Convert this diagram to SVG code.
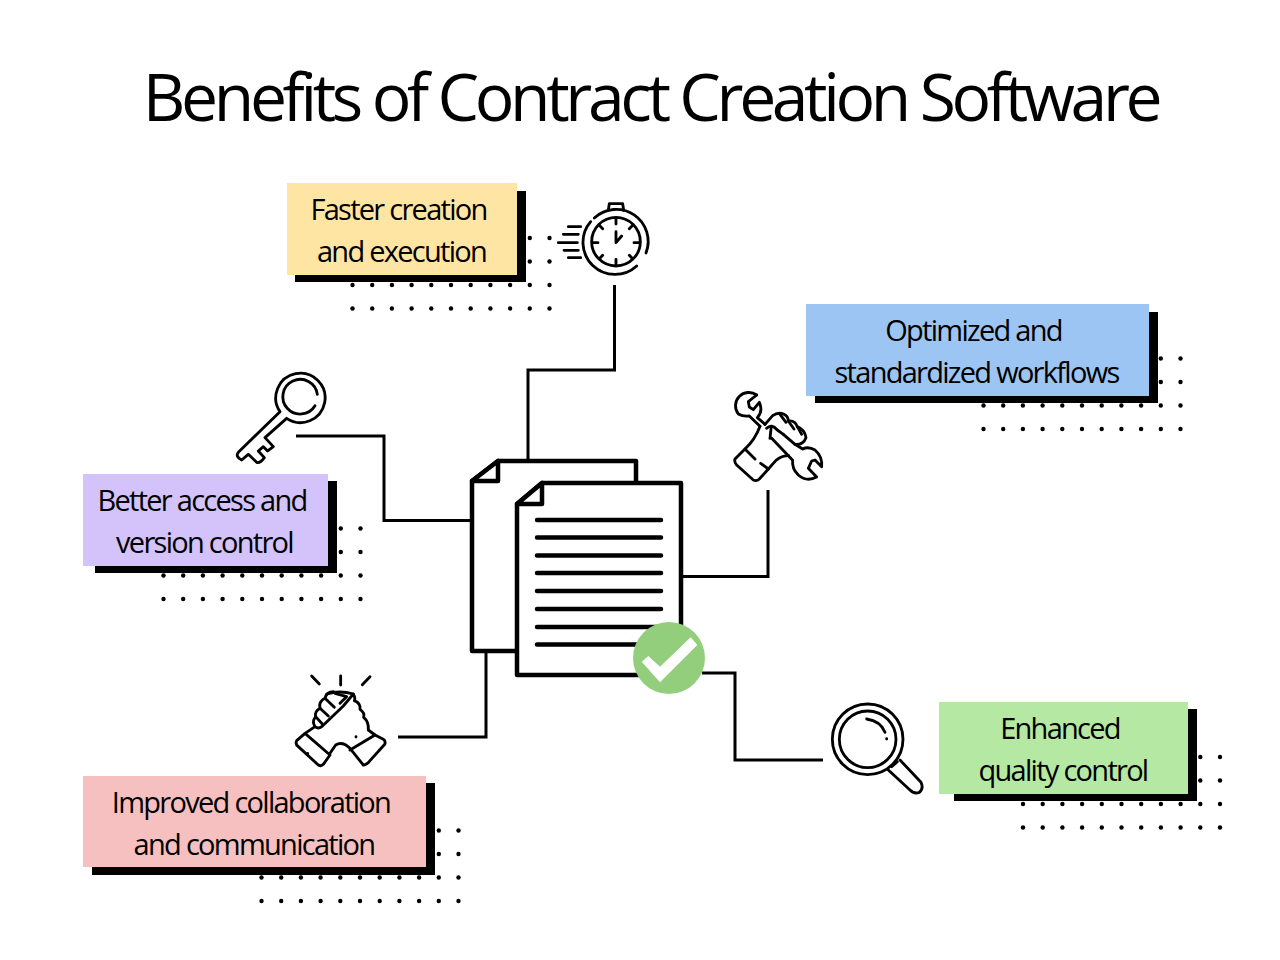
<svg xmlns="http://www.w3.org/2000/svg" width="1280" height="960" viewBox="0 0 1280 960">
<style>
text{font-family:"Open Sans","Noto Sans",sans-serif;fill:#000;text-anchor:middle}
.t{font-size:29px;letter-spacing:-1.72px}
.title{font-size:66px;letter-spacing:-4.38px}
.l{fill:none;stroke:#000;stroke-width:8.500;stroke-linecap:round;stroke-linejoin:round}
.c{fill:none;stroke:#000;stroke-width:3}
.d{fill:#fff;stroke:#000;stroke-width:4.500;stroke-linejoin:round}
.r{fill:none;stroke:#000;stroke-width:4.500;stroke-linecap:round}
</style>
<defs>
<g id="row"><circle cx="0" cy="0" r="2.200"/><circle cx="19.7" cy="0" r="2.200"/><circle cx="39.4" cy="0" r="2.200"/><circle cx="59.1" cy="0" r="2.200"/><circle cx="78.8" cy="0" r="2.200"/><circle cx="98.5" cy="0" r="2.200"/><circle cx="118.2" cy="0" r="2.200"/><circle cx="137.9" cy="0" r="2.200"/><circle cx="157.6" cy="0" r="2.200"/><circle cx="177.3" cy="0" r="2.200"/><circle cx="197" cy="0" r="2.200"/></g>
<g id="dots"><use href="#row" y="0"/><use href="#row" y="23.500"/><use href="#row" y="47"/><use href="#row" y="70.500"/></g>
</defs>
<rect width="1280" height="960" fill="#fff"/>
<text class="title" x="650.500" y="121">Benefits of Contract Creation Software</text>
<g id="connectors" class="c">
<path d="M614.500 285V370H528V460"/>
<path d="M296 436H384V520.500H472"/>
<path d="M768 490V576.500H682"/>
<path d="M398 737H486V650"/>
<path d="M702 673H735V760H823"/>
</g>
<g id="faster"><use href="#dots" x="352.500" y="238"/><rect x="295" y="191" width="231" height="91"/><rect x="287" y="183" width="230" height="92" fill="#ffe5a3"/><text class="t" x="398.500" y="220">Faster creation</text><text class="t" x="401.500" y="262">and execution</text></g>
<g id="optimized"><use href="#dots" x="983.500" y="358.500"/><rect x="815" y="312" width="343" height="91"/><rect x="806" y="304" width="343" height="92" fill="#9dc5f3"/><text class="t" x="973.500" y="341">Optimized and</text><text class="t" x="976.500" y="383">standardized workflows</text></g>
<g id="better"><use href="#dots" x="163.500" y="528.500"/><rect x="95" y="481" width="242" height="92"/><rect x="83" y="474" width="245" height="92" fill="#d3c3fa"/><text class="t" x="202" y="511">Better access and</text><text class="t" x="204.500" y="553">version control</text></g>
<g id="improved"><use href="#dots" x="261.500" y="830.500"/><rect x="92" y="783" width="343" height="92"/><rect x="83" y="776" width="343" height="91" fill="#f6c0c0"/><text class="t" x="251" y="813">Improved collaboration</text><text class="t" x="254" y="855">and communication</text></g>
<g id="enhanced"><use href="#dots" x="1023" y="757"/><rect x="954" y="709" width="243" height="92"/><rect x="939" y="702" width="249" height="92" fill="#b5e8a2"/><text class="t" x="1060" y="739">Enhanced</text><text class="t" x="1063" y="781">quality control</text></g>
<g id="stopwatch" class="l" transform="translate(540 191) scale(.3333)">
<path d="M205 58L208 38H248L251 58"/>
<path d="M163 81A96 96 0 0 1 318 186"/>
<path d="M290 225A96 96 0 0 1 152 92"/>
<circle cx="228" cy="152" r="73"/>
<path d="M228 84V99M228 205V222M159 155H174M282 155H298M178 103L188 113M278 103L268 113M178 203L188 193M278 203L268 193"/>
<path d="M228 122V155L245 135"/>
<path d="M85 107H122M70 130H115M55 155H112M72 178H115M85 200H122"/>
</g>
<g id="key" class="l" transform="translate(225 365) scale(.3333)">
<path d="M165 140L40 262Q30 275 50 285L70 268L95 292Q105 296 118 278L100 258L115 245L128 258L145 245L120 218L185 160A74 74 0 1 0 165 140Z"/>
<path d="M277 88A52 52 0 1 0 270 122"/>
</g>
<g id="tools" class="l" transform="translate(720 385) scale(.3333)">
<path d="M110 30A40 40 0 0 0 55 87Q68 95 88 93L120 124"/>
<path d="M110 30L85 50L88 66L100 74L118 52Q130 78 112 98L135 118"/>
<path d="M135 118L158 92Q175 80 192 88Q205 95 205 108Q225 105 232 125Q255 135 258 158Q250 180 225 178L190 148"/>
<path d="M75 192Q105 165 120 124M140 130Q155 115 172 135L190 148M150 160L153 132"/>
<path d="M75 192L45 222Q42 232 50 240L100 285Q110 290 118 282L145 252L122 235M105 222L75 192"/>
<path d="M145 252L168 226Q185 212 206 212"/>
<path d="M155 160L218 226Q215 250 235 270Q260 292 290 276L265 250L275 228L285 225L305 245Q308 215 285 195Q265 183 248 192L225 178"/>
<path d="M180 88L198 112M205 108L222 132M232 125L245 148"/>
</g>
<g id="handshake" class="l" transform="translate(285 670) scale(.3333)">
<path d="M80 18L103 42M167 18V45M255 20L232 44"/>
<path d="M145 65Q125 65 120 85Q100 95 105 115Q88 125 92 140Q80 155 90 170Q100 178 110 170L175 108L205 72"/>
<path d="M125 72Q165 60 205 72Q212 85 208 92Q228 100 225 118Q240 128 236 142Q252 155 250 180L270 195"/>
<path d="M120 85L148 112M105 115L130 138M92 140L112 162M150 70L185 80L165 100"/>
<path d="M90 170L60 190L35 212Q30 222 40 230L100 285Q108 290 115 283L135 255L60 190"/>
<path d="M135 250L152 225Q172 212 195 235L235 285Q245 285 255 272L300 222Q302 212 295 208L270 195L195 240"/>
<path d="M68 250V251M213 200V201"/>
</g>
<g id="magnifier" class="l" transform="translate(820 695) scale(.3333)">
<circle cx="143" cy="133" r="106"/>
<circle cx="143" cy="133" r="85"/>
<path d="M140 72Q182 78 195 112M200 131V132"/>
<path d="M205 225L270 285Q282 298 298 292Q312 280 303 262L240 195M215 215L232 200"/>
</g>
<g id="documents">
<path class="d" d="M498 461H636V651H472V481Z"/>
<path class="d" d="M498 461V481H472Z"/>
<path class="d" d="M542 483H681V675H517V504Z"/>
<path class="d" d="M542 483V504H517Z"/>
<path class="r" d="M537 520H661M537 537.500H661M537 555.500H661M537 573H661M537 591H661M537 609H661M537 627H661M537 644.500H661"/>
<circle cx="669" cy="658" r="36" fill="#93ce7d"/>
<polygon points="641.700,661.700 648.300,656 660,666.700 690.700,637.300 697.300,645 660,682.300" fill="#fff"/>
</g>
</svg>
